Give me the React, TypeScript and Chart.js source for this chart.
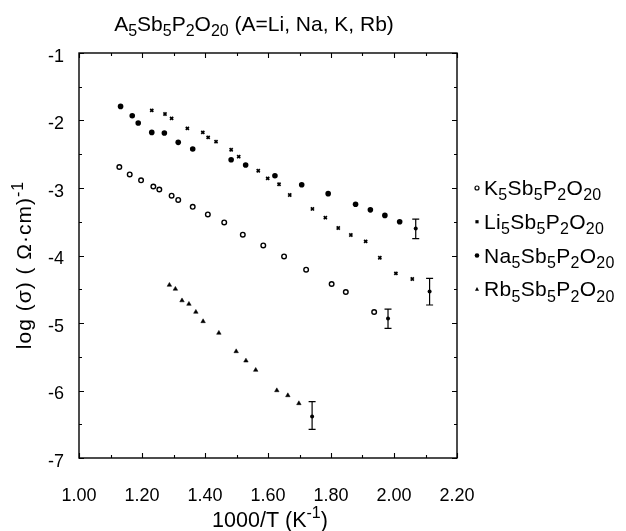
import React, { useEffect, useRef } from "react";
import { Chart, registerables } from "chart.js";
Chart.register(...registerables);

// ---- data (1000/T, log sigma) ----
const kX = [1.128, 1.161, 1.197, 1.236, 1.255, 1.294, 1.315, 1.361, 1.409, 1.461, 1.520, 1.585, 1.651, 1.721, 1.802, 1.847, 1.937];
const kY = [-2.689, -2.799, -2.887, -2.978, -3.022, -3.114, -3.176, -3.279, -3.391, -3.510, -3.692, -3.850, -4.013, -4.210, -4.422, -4.541, -4.837];

const liX = [1.231, 1.273, 1.294, 1.344, 1.393, 1.410, 1.435, 1.483, 1.507, 1.569, 1.599, 1.635, 1.669, 1.741, 1.782, 1.823, 1.863, 1.910, 1.955, 2.006, 2.058];
const liY = [-1.850, -1.904, -1.969, -2.117, -2.176, -2.250, -2.314, -2.433, -2.536, -2.744, -2.858, -2.944, -3.104, -3.310, -3.440, -3.593, -3.696, -3.791, -4.033, -4.265, -4.348];

const naX = [1.132, 1.169, 1.188, 1.231, 1.271, 1.315, 1.361, 1.483, 1.529, 1.622, 1.707, 1.791, 1.878, 1.925, 1.971, 2.018];
const naY = [-1.791, -1.929, -2.037, -2.176, -2.185, -2.324, -2.422, -2.581, -2.659, -2.818, -2.951, -3.084, -3.240, -3.324, -3.406, -3.499];

const rbX = [1.287, 1.306, 1.327, 1.349, 1.371, 1.394, 1.444, 1.499, 1.530, 1.561, 1.628, 1.663, 1.698];
const rbY = [-4.437, -4.496, -4.667, -4.719, -4.837, -4.976, -5.148, -5.421, -5.559, -5.697, -5.999, -6.073, -6.191];

// error-bar points: Na, Li, K, Rb
const errX = [2.069, 2.113, 1.981, 1.740];
const errY = [-3.600, -4.532, -4.932, -6.384];
const errLo = [-3.750, -4.733, -5.080, -6.576];
const errHi = [-3.460, -4.339, -4.793, -6.166];

const xTickLabels = [1.0, 1.2, 1.4, 1.6, 1.8, 2.0, 2.2];
const yTickLabels = [-1, -2, -3, -4, -5, -6, -7];

const titleText = "A5Sb5P2O20 (A=Li, Na, K, Rb)";
const legendLabels = ["K5Sb5P2O20", "Li5Sb5P2O20", "Na5Sb5P2O20", "Rb5Sb5P2O20"];
const legendMarkers = ["openCircle", "cross", "dot", "triangle"];
const legendRowValues = [-3, -3.5, -4, -4.5];

const FONT = "'Liberation Sans', Arial, Helvetica, sans-serif";

type Seg = { t: string; m: "n" | "sub" | "sup" };

function formulaSegs(s: string): Seg[] {
  const out: Seg[] = [];
  const re = /(\d+)|([^\d]+)/g;
  let m: RegExpExecArray | null;
  while ((m = re.exec(s))) {
    if (m[1]) out.push({ t: m[1], m: "sub" });
    else out.push({ t: m[2], m: "n" });
  }
  return out;
}

function segFont(size: number, mode: string, weight: string) {
  const s = mode === "n" ? size : Math.round(size * 0.74);
  return `${weight} ${s}px ${FONT}`;
}

function richWidth(ctx: CanvasRenderingContext2D, segs: Seg[], size: number, weight: string) {
  let w = 0;
  for (const sg of segs) {
    ctx.font = segFont(size, sg.m, weight);
    w += ctx.measureText(sg.t).width;
  }
  return w;
}

function drawRich(
  ctx: CanvasRenderingContext2D,
  segs: Seg[],
  x: number,
  y: number,
  size: number,
  align: "left" | "center",
  weight = "normal",
  spacing = "0px"
) {
  ctx.save();
  (ctx as any).letterSpacing = spacing;
  ctx.textAlign = "left";
  ctx.textBaseline = "alphabetic";
  ctx.fillStyle = "#000";
  let cx = x;
  if (align === "center") cx = x - richWidth(ctx, segs, size, weight) / 2;
  for (const sg of segs) {
    ctx.font = segFont(size, sg.m, weight);
    const dy = sg.m === "sub" ? size * 0.26 : sg.m === "sup" ? -size * 0.4 : 0;
    ctx.fillText(sg.t, cx, y + dy);
    cx += ctx.measureText(sg.t).width;
  }
  ctx.restore();
}

function drawMarker(ctx: CanvasRenderingContext2D, kind: string, x: number, y: number) {
  ctx.save();
  ctx.strokeStyle = "#000";
  ctx.fillStyle = "#000";
  ctx.lineWidth = 1.2;
  if (kind === "openCircle") {
    ctx.beginPath();
    ctx.arc(x, y, 2, 0, Math.PI * 2);
    ctx.stroke();
  } else if (kind === "cross") {
    ctx.fillRect(x - 1.6, y - 1.6, 3.2, 3.2);
  } else if (kind === "dot") {
    ctx.beginPath();
    ctx.arc(x, y, 2.3, 0, Math.PI * 2);
    ctx.fill();
  } else {
    ctx.beginPath();
    ctx.moveTo(x, y - 2.2);
    ctx.lineTo(x + 2, y + 1.6);
    ctx.lineTo(x - 2, y + 1.6);
    ctx.closePath();
    ctx.fill();
  }
  ctx.restore();
}

const decorPlugin = {
  id: "decor",
  afterDraw(chart: any) {
    const ctx: CanvasRenderingContext2D = chart.ctx;
    const { left, right, top, bottom } = chart.chartArea;
    const xs = chart.scales.x;
    const ys = chart.scales.y;
    ctx.save();
    ctx.strokeStyle = "#000";
    ctx.lineWidth = 1.4;
    ctx.strokeRect(left, top, right - left, bottom - top);
    ctx.lineWidth = 1.1;
    // x ticks every 0.1, major every 0.2
    for (let i = 0; i <= 12; i++) {
      const v = 1 + i * 0.1;
      const px = Math.round(xs.getPixelForValue(v)) + 0.5;
      const len = i % 2 === 0 ? 5 : 3;
      ctx.beginPath();
      ctx.moveTo(px, bottom);
      ctx.lineTo(px, bottom - len);
      ctx.moveTo(px, top);
      ctx.lineTo(px, top + len);
      ctx.stroke();
    }
    // y ticks every 0.5, major every 1
    for (let i = 0; i <= 12; i++) {
      const v = -7 + i * 0.5;
      const py = Math.round(ys.getPixelForValue(v)) + 0.5;
      const len = i % 2 === 0 ? 5 : 3;
      ctx.beginPath();
      ctx.moveTo(left, py);
      ctx.lineTo(left + len, py);
      ctx.moveTo(right, py);
      ctx.lineTo(right - len, py);
      ctx.stroke();
    }
    // error bars
    ctx.lineWidth = 1.2;
    for (let i = 0; i < errX.length; i++) {
      const px = xs.getPixelForValue(errX[i]);
      const p1 = ys.getPixelForValue(errLo[i]);
      const p2 = ys.getPixelForValue(errHi[i]);
      ctx.beginPath();
      ctx.moveTo(px, p1);
      ctx.lineTo(px, p2);
      ctx.moveTo(px - 3.5, p1);
      ctx.lineTo(px + 3.5, p1);
      ctx.moveTo(px - 3.5, p2);
      ctx.lineTo(px + 3.5, p2);
      ctx.stroke();
    }
    ctx.restore();

    // title
    drawRich(ctx, formulaSegs(titleText), 254, 31, 21, "center");

    // legend
    for (let i = 0; i < legendLabels.length; i++) {
      const py = ys.getPixelForValue(legendRowValues[i]);
      drawMarker(ctx, legendMarkers[i], 477, py);
      drawRich(ctx, formulaSegs(legendLabels[i]), 484, py + 7, 21, "left", "normal", "0.3px");
    }

    // x title
    drawRich(
      ctx,
      [
        { t: "1000/T (K", m: "n" },
        { t: "-1", m: "sup" },
        { t: ")", m: "n" },
      ],
      270,
      527,
      21.5,
      "center"
    );

    // y title
    ctx.save();
    ctx.translate(31, 265);
    ctx.rotate(-Math.PI / 2);
    drawRich(
      ctx,
      [
        { t: "log (σ) ( Ω·cm)", m: "n" },
        { t: "-1", m: "sup" },
      ],
      0,
      0,
      21,
      "center",
      "normal",
      "1px"
    );
    ctx.restore();
  },
};

export default function App() {
  const ref = useRef<HTMLCanvasElement | null>(null);
  useEffect(() => {
    if (!ref.current) return;
    const pts = (xs: number[], ys: number[]) => xs.map((x, i) => ({ x, y: ys[i] }));
    const chart = new Chart(ref.current, {
      type: "scatter",
      data: {
        datasets: [
          {
            label: "K",
            data: pts(kX, kY),
            pointStyle: "circle",
            pointRadius: 2.3,
            borderColor: "#000",
            backgroundColor: "#fff",
            borderWidth: 1.4,
          },
          {
            label: "Li",
            data: pts(liX, liY),
            pointStyle: "crossRot",
            pointRadius: 2.2,
            borderColor: "#000",
            backgroundColor: "#000",
            borderWidth: 1.7,
          },
          {
            label: "Na",
            data: pts(naX, naY),
            pointStyle: "circle",
            pointRadius: 2.8,
            borderColor: "#000",
            backgroundColor: "#000",
            borderWidth: 0,
          },
          {
            label: "Rb",
            data: pts(rbX, rbY),
            pointStyle: "triangle",
            pointRadius: 2.6,
            borderColor: "#000",
            backgroundColor: "#000",
            borderWidth: 0.5,
          },
          {
            label: "err",
            data: pts(errX, errY),
            pointStyle: "circle",
            pointRadius: 2,
            borderColor: "#000",
            backgroundColor: "#000",
            borderWidth: 0,
          },
        ],
      },
      options: {
        responsive: false,
        animation: false,
        layout: { padding: { left: 0, top: 53, right: 169, bottom: 0 } },
        plugins: {
          legend: { display: false },
          title: { display: false },
          tooltip: { enabled: false },
        },
        scales: {
          x: {
            type: "linear",
            min: 1,
            max: 2.2,
            afterFit: (s: any) => {
              s.height = 73;
            },
            afterBuildTicks: (s: any) => {
              s.ticks = xTickLabels.map((v) => ({ value: v }));
            },
            grid: { display: false, drawTicks: false },
            border: { display: false },
            ticks: {
              autoSkip: false,
              maxRotation: 0,
              padding: 27,
              color: "#000",
              font: { family: FONT, size: 18 },
              callback: (v: any) => Number(v).toFixed(2),
            },
          },
          y: {
            type: "linear",
            min: -7,
            max: -1,
            afterFit: (s: any) => {
              s.width = 79;
            },
            afterBuildTicks: (s: any) => {
              s.ticks = yTickLabels.map((v) => ({ value: v }));
            },
            grid: { display: false, drawTicks: false },
            border: { display: false },
            ticks: {
              autoSkip: false,
              padding: 15,
              labelOffset: 4,
              color: "#000",
              font: { family: FONT, size: 18 },
              callback: (v: any) => String(v),
            },
          },
        },
      },
      plugins: [decorPlugin],
    });
    return () => chart.destroy();
  }, []);
  return (
    <div style={{ position: "fixed", left: 0, top: 0, width: 626, height: 531, background: "#fff" }}>
      <canvas ref={ref} width={626} height={531} style={{ display: "block", width: 626, height: 531 }} />
    </div>
  );
}
